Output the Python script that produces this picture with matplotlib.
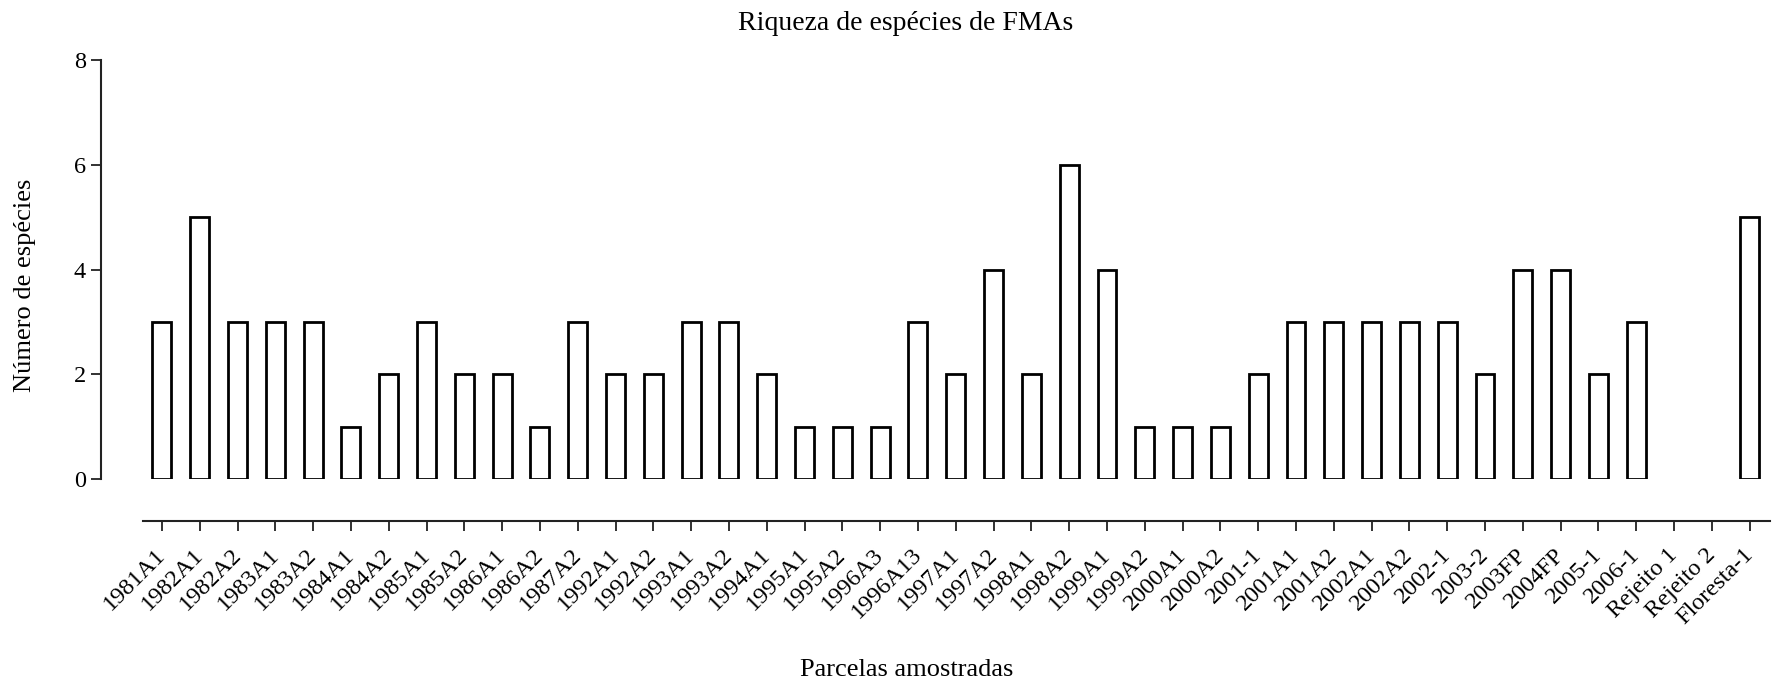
import matplotlib
matplotlib.use("Agg")
import matplotlib.pyplot as plt
import matplotlib.transforms as mtransforms

categories = ["1981A1", "1982A1", "1982A2", "1983A1", "1983A2", "1984A1", "1984A2",
              "1985A1", "1985A2", "1986A1", "1986A2", "1987A2", "1992A1", "1992A2",
              "1993A1", "1993A2", "1994A1", "1995A1", "1995A2", "1996A3", "1996A13",
              "1997A1", "1997A2", "1998A1", "1998A2", "1999A1", "1999A2", "2000A1",
              "2000A2", "2001-1", "2001A1", "2001A2", "2002A1", "2002A2", "2002-1",
              "2003-2", "2003FP", "2004FP", "2005-1", "2006-1", "Rejeito 1",
              "Rejeito 2", "Floresta-1"]
values = [3, 5, 3, 3, 3, 1, 2, 3, 2, 2, 1, 3, 2, 2, 3, 3, 2, 1, 1, 1, 3, 2, 4, 2, 6,
          4, 1, 1, 1, 2, 3, 3, 3, 3, 3, 2, 4, 4, 2, 3, 0, 0, 5]
yticks = [0, 2, 4, 6, 8]

plt.rcParams['font.family'] = ['Liberation Serif', 'DejaVu Serif']

W, H = 1776, 683
fig = plt.figure(figsize=(W / 100, H / 100), dpi=100)
ax = fig.add_axes([143 / W, 1 - 479 / H, (1770 - 143) / W, (479 - 60) / H])

# spines first (moving spines resets the ticks)
for s in ['top', 'right']:
    ax.spines[s].set_visible(False)
ax.spines['left'].set_position(('outward', 30))
ax.spines['bottom'].set_position(('outward', 30))
ax.spines['left'].set_linewidth(1.5)
ax.spines['bottom'].set_linewidth(1.5)
ax.spines['left'].set_color('#222222')
ax.spines['bottom'].set_color('#222222')

x = list(range(len(categories)))
bars = ax.bar(x, values, width=0.5, facecolor='white', edgecolor='black',
              linewidth=2.0)
for b, v in zip(bars, values):
    b.set_joinstyle('miter')
    if v == 0:
        b.set_linewidth(0)

ax.set_xlim(-0.5, 42.54)
ax.set_ylim(0, 8)
ax.set_yticks(yticks)
ax.set_xticks(x)
ax.set_xticklabels(categories)
ax.tick_params(axis='y', labelsize=17.5, length=7, width=1.3, pad=4, colors='#222222',
               labelcolor='black')
ax.tick_params(axis='x', labelsize=17.5, length=7, width=1.3, pad=10, labelrotation=45,
               colors='#222222', labelcolor='black')
shift = mtransforms.ScaledTranslation(-7 / 100, 0, fig.dpi_scale_trans)
for lab in ax.get_xticklabels():
    lab.set_horizontalalignment('right')
    lab.set_rotation_mode('anchor')
    lab.set_transform(lab.get_transform() + shift)

fig.text(906 / W, 1 - 23 / H, "Riqueza de espécies de FMAs", ha='center', va='center',
         fontsize=20)
fig.text(907 / W, 1 - 670 / H, "Parcelas amostradas", ha='center', va='center',
         fontsize=19)
fig.text(25 / W, 1 - 285 / H, "Número de espécies", ha='center', va='center',
         fontsize=19, rotation=90)

fig.savefig("out.png", dpi=100)
